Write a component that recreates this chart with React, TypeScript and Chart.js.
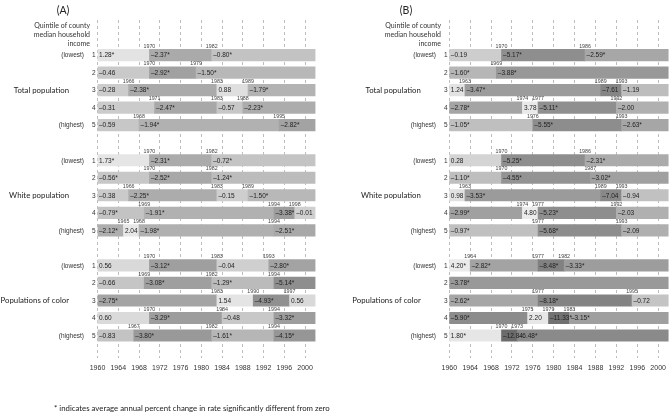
import { useEffect, useRef } from "react";
import { Chart, registerables } from "chart.js";

Chart.register(...registerables);

// ---------- data ----------
const YEAR_START = 1960;
const YEAR_END = 2002;
const TICK_STEP = 4;
const GROUP_NAMES = ["Total population", "White population", "Populations of color"];
const QUINTILE_NAMES = ["(lowest)", "", "", "", "(highest)"];
const HEADER_LINES = ["Quintile of county", "median household", "income"];
const FOOTNOTE = "* indicates average annual percent change in rate significantly different from zero";

// Panel A
const aTotalBreaks = [[1970, 1982], [1970, 1979], [1966, 1983, 1989], [1971, 1983, 1988], [1968, 1995]];
const aTotalApc = [[1.28, -2.37, -0.8], [-0.46, -2.92, -1.5], [-0.28, -2.38, 0.88, -1.79], [-0.31, -2.47, -0.57, -2.23], [-0.59, -1.94, -2.82]];
const aTotalSig = [[1, 1, 1], [0, 1, 1], [0, 1, 0, 1], [0, 1, 0, 1], [0, 1, 1]];

const aWhiteBreaks = [[1970, 1982], [1970, 1982], [1966, 1983, 1989], [1969, 1994, 1998], [1965, 1968, 1994]];
const aWhiteApc = [[1.73, -2.31, -0.72], [-0.56, -2.52, -1.24], [-0.38, -2.25, -0.15, -1.5], [-0.79, -1.91, -3.38, -0.01], [-2.12, 2.04, -1.98, -2.51]];
const aWhiteSig = [[1, 1, 1], [1, 1, 1], [0, 1, 0, 1], [1, 1, 1, 0], [1, 0, 1, 1]];

const aColorBreaks = [[1970, 1983, 1993], [1969, 1982, 1994], [1983, 1990, 1997], [1970, 1984, 1994], [1967, 1982, 1994]];
const aColorApc = [[0.56, -3.12, -0.04, -2.8], [-0.66, -3.08, -1.29, -5.14], [-2.75, 1.54, -4.93, 0.56], [0.6, -3.29, -0.48, -3.32], [-0.83, -3.8, -1.61, -4.15]];
const aColorSig = [[0, 1, 0, 1], [0, 1, 1, 1], [1, 0, 1, 0], [0, 1, 0, 1], [0, 1, 1, 1]];

// Panel B
const bTotalBreaks = [[1970, 1986], [1969], [1963, 1989, 1993], [1974, 1977, 1992], [1976, 1993]];
const bTotalApc = [[-0.19, -5.17, -2.59], [-1.6, -3.88], [1.24, -3.47, -7.61, -1.19], [-2.78, 3.78, -5.11, -2.0], [-1.05, -5.55, -2.63]];
const bTotalSig = [[0, 1, 1], [1, 1], [0, 1, 0, 0], [1, 0, 1, 0], [1, 1, 1]];

const bWhiteBreaks = [[1970, 1986], [1970, 1987], [1963, 1989, 1993], [1974, 1977, 1992], [1977, 1993]];
const bWhiteApc = [[0.28, -5.25, -2.31], [-1.1, -4.55, -3.02], [0.98, -3.53, -7.04, -0.94], [-2.99, 4.8, -5.23, -2.03], [-0.97, -5.68, -2.09]];
const bWhiteSig = [[0, 1, 1], [1, 1, 1], [0, 1, 0, 0], [1, 0, 1, 0], [1, 1, 0]];

const bColorBreaks = [[1964, 1977, 1982], [], [1977, 1995], [1975, 1979, 1983], [1970, 1973]];
const bColorApc = [[4.2, -2.82, -8.48, -3.33], [-3.78], [-2.62, -8.18, -0.72], [-5.9, 2.2, -11.33, -3.15], [1.8, -12.84, -6.48]];
const bColorSig = [[1, 1, 1, 1], [1], [1, 1, 0], [1, 0, 1, 1], [1, 0, 1]];

// ---------- helpers ----------
const SHADE_STOPS: [number, number][] = [
  [-13, 106], [-11, 114], [-8, 132], [-5, 143], [-4, 151], [-3, 160], [-2.5, 168], [-2, 176],
  [-1, 192], [-0.5, 200], [0, 208], [0.5, 216], [1, 225], [2, 231], [5, 235],
];
function shade(v: number) {
  let g = SHADE_STOPS[0][1];
  if (v >= SHADE_STOPS[SHADE_STOPS.length - 1][0]) g = SHADE_STOPS[SHADE_STOPS.length - 1][1];
  else {
    for (let i = 0; i < SHADE_STOPS.length - 1; i++) {
      const [x0, y0] = SHADE_STOPS[i];
      const [x1, y1] = SHADE_STOPS[i + 1];
      if (v >= x0 && v <= x1) {
        g = y0 + ((v - x0) / (x1 - x0)) * (y1 - y0);
        break;
      }
    }
  }
  const c = Math.round(g);
  return `rgb(${c},${c},${c})`;
}
function fmt(v: number, sig: number) {
  const s = Math.abs(v).toFixed(2);
  return (v < 0 ? "\u2013" : "") + s + (sig ? "*" : "");
}

type Pt = { x: [number, number]; y: number; v: number; sig: number; first: boolean };

function buildPoints(groups: { breaks: number[][]; apc: number[][]; sig: number[][] }[]) {
  const pts: Pt[] = [];
  groups.forEach((g, gi) => {
    g.breaks.forEach((br, qi) => {
      const starts = [YEAR_START, ...br];
      const ends = [...br, YEAR_END];
      starts.forEach((s, k) => {
        pts.push({ x: [s, ends[k]], y: gi * 6 + qi, v: g.apc[qi][k], sig: g.sig[qi][k], first: k === 0 });
      });
    });
  });
  return pts;
}

const SANS = "'Liberation Sans', Arial, sans-serif";
const HUMAN = "Lato, 'Open Sans', sans-serif";

type PanelCfg = {
  id: string;
  title: string;
  canvasLeft: number;
  canvasWidth: number;
  padLeft: number;
  padRight: number;
  titleX: number;
  headerRight: number;
  quintRight: number;
  digitRight: number;
  footnote: boolean;
  points: Pt[];
};

function PanelChart({ cfg }: { cfg: PanelCfg }) {
  const ref = useRef<HTMLCanvasElement | null>(null);
  useEffect(() => {
    if (!ref.current) return;
    const pts = cfg.points;
    const textPlugin = {
      id: "texts" + cfg.id,
      afterDatasetsDraw(chart: any) {
        const ctx = chart.ctx as CanvasRenderingContext2D;
        const ys = chart.scales.y;
        const left = chart.chartArea.left;
        const meta = chart.getDatasetMeta(0);
        ctx.save();
        ctx.textBaseline = "middle";
        meta.data.forEach((el: any, i: number) => {
          const p = pts[i];
          const pr = el.getProps(["x", "base", "y", "height"], true);
          const l = Math.min(pr.x, pr.base);
          ctx.fillStyle = "#222";
          ctx.font = `6.5px ${SANS}`;
          ctx.textAlign = "left";
          ctx.fillText(fmt(p.v, p.sig), l + 1.5, pr.y + 0.5);
          if (!p.first) {
            ctx.fillStyle = "#444";
            ctx.font = `5.3px ${SANS}`;
            ctx.textAlign = "center";
            ctx.fillText(String(p.x[0]), l, pr.y - pr.height / 2 - 3);
          }
        });
        for (let g = 0; g < 3; g++) {
          for (let q = 0; q < 5; q++) {
            const y = ys.getPixelForValue(g * 6 + q) + 0.5;
            ctx.fillStyle = "#333";
            ctx.font = `6.5px ${SANS}`;
            ctx.textAlign = "right";
            ctx.fillText(String(q + 1), cfg.digitRight, y);
            if (QUINTILE_NAMES[q]) ctx.fillText(QUINTILE_NAMES[q], cfg.quintRight, y);
          }
          ctx.fillStyle = "#222";
          ctx.font = `7.8px ${HUMAN}`;
          ctx.textAlign = "right";
          ctx.fillText(GROUP_NAMES[g], left - 28.5, ys.getPixelForValue(g * 6 + 2) + 0.5);
        }
        ctx.fillStyle = "#333";
        ctx.font = `7px ${HUMAN}`;
        ctx.textAlign = "right";
        HEADER_LINES.forEach((t, i) => ctx.fillText(t, cfg.headerRight, 26 + i * 9));
        ctx.fillStyle = "#222";
        ctx.font = `10.5px ${HUMAN}`;
        ctx.textAlign = "center";
        ctx.fillText(cfg.title, cfg.titleX, 11);
        if (cfg.footnote) {
          ctx.font = `7.8px ${HUMAN}`;
          ctx.textAlign = "left";
          ctx.fillText(FOOTNOTE, 54, 408);
        }
        ctx.restore();
      },
    };
    const chart = new Chart(ref.current, {
      type: "bar",
      data: {
        datasets: [
          {
            data: pts as any,
            backgroundColor: (c: any) => (c.raw ? shade(c.raw.v) : "#ccc"),
            borderWidth: 0,
            barThickness: 11.5,
            grouped: false,
          } as any,
        ],
      },
      plugins: [textPlugin],
      options: {
        indexAxis: "y",
        animation: false,
        responsive: false,
        devicePixelRatio: 1,
        layout: { padding: { left: cfg.padLeft, right: cfg.padRight, top: 20, bottom: 40 } },
        plugins: { legend: { display: false }, tooltip: { enabled: false } },
        scales: {
          x: {
            type: "linear",
            bounds: "data",
            offset: false,
            min: YEAR_START,
            max: YEAR_END,
            afterBuildTicks: (scale: any) => {
              scale.ticks = scale.ticks.filter((t: any) => (t.value - YEAR_START) % TICK_STEP === 0);
            },
            grid: { display: true, drawOnChartArea: true, color: "#bdbdbd", lineWidth: 1, drawTicks: false },
            border: { display: false, dash: [3, 3] },
            ticks: {
              stepSize: TICK_STEP,
              includeBounds: false,
              padding: 6,
              color: "#333",
              font: { family: SANS, size: 7 },
              callback: (v: any) => String(v),
              maxRotation: 0,
              autoSkip: false,
            },
          },
          y: {
            type: "linear",
            bounds: "data",
            offset: false,
            reverse: true,
            min: -2,
            max: 17.26,
            display: false,
          },
        },
      } as any,
    });
    return () => chart.destroy();
  }, [cfg]);
  return (
    <canvas
      ref={ref}
      width={cfg.canvasWidth}
      height={418}
      style={{ position: "absolute", left: cfg.canvasLeft, top: 0, width: cfg.canvasWidth, height: 418 }}
    />
  );
}

const panelA: PanelCfg = {
  id: "A",
  title: "(A)",
  canvasLeft: 0,
  canvasWidth: 340,
  padLeft: 97.5,
  padRight: 340 - 315.5,
  titleX: 63,
  headerRight: 90,
  quintRight: 84,
  digitRight: 95.5,
  footnote: true,
  points: buildPoints([
    { breaks: aTotalBreaks, apc: aTotalApc, sig: aTotalSig },
    { breaks: aWhiteBreaks, apc: aWhiteApc, sig: aWhiteSig },
    { breaks: aColorBreaks, apc: aColorApc, sig: aColorSig },
  ]),
};

const panelB: PanelCfg = {
  id: "B",
  title: "(B)",
  canvasLeft: 334,
  canvasWidth: 360,
  padLeft: 449.3 - 334,
  padRight: 360 - (668.6 - 334),
  titleX: 406 - 334,
  headerRight: 441 - 334,
  quintRight: 436 - 334,
  digitRight: 447.5 - 334,
  footnote: false,
  points: buildPoints([
    { breaks: bTotalBreaks, apc: bTotalApc, sig: bTotalSig },
    { breaks: bWhiteBreaks, apc: bWhiteApc, sig: bWhiteSig },
    { breaks: bColorBreaks, apc: bColorApc, sig: bColorSig },
  ]),
};

export default function App() {
  return (
    <div style={{ position: "fixed", left: 0, top: 0, width: 669, height: 418, overflow: "hidden", background: "#fff" }}>
      <PanelChart cfg={panelA} />
      <PanelChart cfg={panelB} />
    </div>
  );
}
